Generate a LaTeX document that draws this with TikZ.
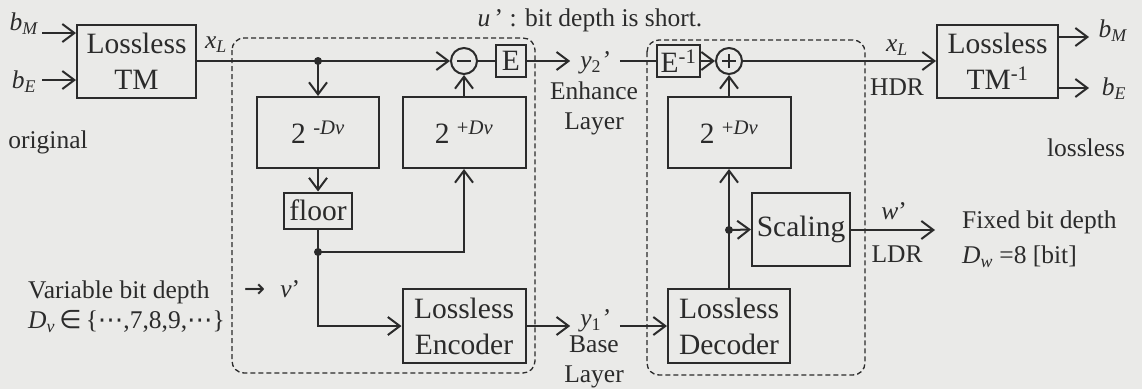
\documentclass[tikz,border=0pt]{standalone}
\usepackage{fontspec}
\setmainfont{Liberation Serif}
\newfontfamily\symb{DejaVu Sans}
\usetikzlibrary{arrows.meta,positioning}
\definecolor{ink}{HTML}{2B2B2B}
\definecolor{paper}{HTML}{EAEAE8}
\newcommand{\vsub}[2]{\textit{#1}\textsubscript{\textit{#2}}}
\newcommand{\pw}[1]{2\hspace{0.25em}\textsuperscript{#1\textit{Dv}}}
\tikzset{blk/.style={draw=ink,line width=2pt,align=center,inner sep=2pt,
  font=\fontsize{29.5}{36}\selectfont},
  sumnode/.style={draw=ink,circle,line width=2pt,minimum size=26pt,inner sep=0pt},
  minusnode/.style={sumnode,path picture={\draw[line width=2pt,ink]
    ([xshift=-7pt]path picture bounding box.center) -- ([xshift=7pt]path picture bounding box.center);}},
  plusnode/.style={sumnode,path picture={\draw[line width=2pt,ink]
    ([xshift=-7pt]path picture bounding box.center) -- ([xshift=7pt]path picture bounding box.center)
    ([yshift=-7pt]path picture bounding box.center) -- ([yshift=7pt]path picture bounding box.center);}},
  arr/.style={-{Straight Barb[length=12pt,width=18pt]},line width=2pt,draw=ink},
  wire/.style={line width=2pt,draw=ink},
  frame/.style={draw=ink,line width=1.3pt,dash pattern=on 5pt off 3pt,rounded corners=12pt},
  lbl/.style={text=ink,inner sep=0pt,align=center,font=\fontsize{25.5}{30}\selectfont}}

\begin{document}
\begin{tikzpicture}[x=1pt,y=-1pt,font=\fontsize{29.5}{30}\selectfont,text=ink]
\fill[paper] (0,0) rectangle (1142,389);
\useasboundingbox (0,0) rectangle (1142,389);
\draw[frame] (232,38) rectangle (535,373);
\draw[frame] (647,40) rectangle (865,375);
\node[blk,minimum width=119pt,minimum height=73pt] (tm) at (136.5,61) {Lossless\\TM};
\node[blk,minimum width=122pt,minimum height=71pt] (neg) at (318,132.5) {\pw{-}};
\node[blk,minimum width=68pt,minimum height=36pt] (flr) at (318,210.5) {floor};
\node[blk,minimum width=123pt,minimum height=71pt] (pos) at (464,132.5) {\pw{+}};
\node[minusnode] (minus) at (464,61) {};
\node[blk,minimum width=30pt,minimum height=32pt,inner sep=0pt] (ebox) at (511,61) {E};
\node[blk,minimum width=123pt,minimum height=74pt] (enc) at (464,326) {Lossless\\Encoder};
\node[lbl,inner xsep=10pt] (y2) at (595,63) {\textit{y}\textsubscript{2}\textit{'}};
\node[lbl,inner xsep=10pt] (y1) at (595,321) {\textit{y}\textsubscript{1}\textit{'}};
\node[blk,minimum width=43pt,minimum height=32pt,inner sep=0pt] (einv) at (678.5,61) {E\textsuperscript{-1}};
\node[plusnode] (plus) at (729,61) {};
\node[blk,minimum width=123pt,minimum height=71pt] (pos2) at (729,132.5) {\pw{+}};
\node[blk,minimum width=122pt,minimum height=74pt] (dec) at (729,326) {Lossless\\Decoder};
\node[blk,minimum width=98pt,minimum height=73pt] (scal) at (801,229.5) {Scaling};
\node[blk,minimum width=121pt,minimum height=73pt] (tminv) at (997.5,61) {Lossless\\TM\textsuperscript{-1}};
\coordinate (dot1) at (318,61);
\coordinate (dot2) at (318,252);
\coordinate (dot3) at (729,230);
\coordinate (bmIn) at (42,33);
\coordinate (beIn) at (42,80);
\coordinate (bmOut) at (1089,37);
\coordinate (beOut) at (1089,88);
\coordinate (wEnd) at (935,230);
\node[lbl] (bml) at (24,24) {\vsub{b}{M}};
\node[lbl] (bel) at (24,82) {\vsub{b}{E}};
\node[lbl] (bmr) at (1113,31) {\vsub{b}{M}};
\node[lbl] (ber) at (1114,89) {\vsub{b}{E}};
\node[lbl] (xl1) at (216,45) {\vsub{x}{L}};
\node[lbl] (xl2) at (897,48) {\vsub{x}{L}};
\node[lbl] (hdr) at (897,87) {HDR};
\node[lbl] (wl) at (894,211) {\textit{w}'};
\node[lbl] (ldr) at (897,254) {LDR};
\node[lbl] (short) at (590,20) {\textit{u}\,' : bit depth is short.};
\node[lbl] (enh) at (594,108) {Enhance\\Layer};
\node[lbl] (base) at (594,362) {Base\\Layer};
\node[lbl] (orig) at (48,142) {original};
\node[lbl] (lossl) at (1086,148) {lossless};
\node[lbl,align=left,anchor=west,font=\fontsize{25.5}{35}\selectfont] (fixed) at (962,239)
{Fixed bit depth\\\vsub{D}{w} =8 [bit]};
\node[lbl,align=left,anchor=west,font=\fontsize{25.5}{30}\selectfont] (var) at (28,307)
{Variable bit depth\\\vsub{D}{v}\,{\symb ∈}\,\{{\symb ⋯},7,8,9,{\symb ⋯}\}};
\node[lbl] (vl) at (272,289) {{\symb →}\hspace{0.6em}\textit{v}'};
\draw[arr] (bmIn) -- (bmIn -| tm.west);
\draw[arr] (beIn) -- (beIn -| tm.west);
\draw[arr] (tm.east) -- (minus.west);
\fill[ink] (dot1) circle (4pt);
\draw[arr] (dot1) -- (neg.north);
\draw[arr] (neg.south) -- (flr.north);
\draw[wire] (flr.south) -- (dot2);
\fill[ink] (dot2) circle (4pt);
\draw[arr] (dot2) -| (pos.south);
\draw[arr] (pos.north) -- (minus.south);
\draw[arr] (dot2) |- (enc.west);
\draw[wire] (minus.east) -- (ebox.west);
\draw[arr] (ebox.east) -- (ebox.east -| y2.west);
\draw[wire] (y2.east |- einv.west) -- (einv.west);
\draw[arr] (einv.east) -- (plus.west);
\draw[arr] (pos2.north) -- (plus.south);
\draw[arr] (plus.east) -- (plus.east -| tminv.west);
\draw[arr] (enc.east) -- (enc.east -| y1.west);
\draw[arr] (y1.east |- dec.west) -- (dec.west);
\draw[arr] (dec.north) -- (pos2.south);
\fill[ink] (dot3) circle (4pt);
\draw[arr] (dot3) -- (scal.west);
\draw[arr] (scal.east |- wEnd) -- (wEnd);
\draw[arr] (bmOut -| tminv.east) -- (bmOut);
\draw[arr] (beOut -| tminv.east) -- (beOut);
\end{tikzpicture}
\end{document}
